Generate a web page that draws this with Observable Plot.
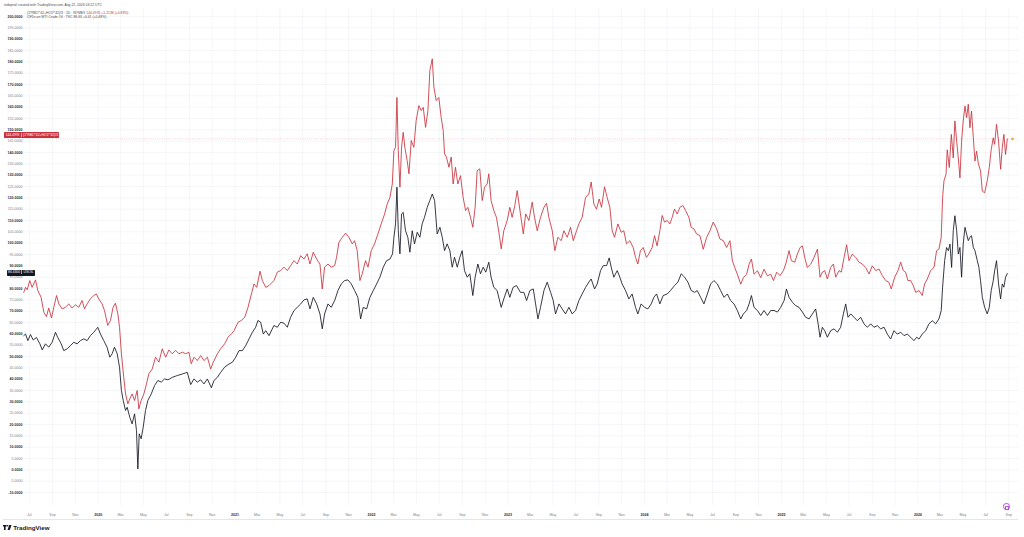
<!DOCTYPE html>
<html><head><meta charset="utf-8">
<script src="https://cdn.jsdelivr.net/npm/d3@7"></script>
<script src="https://cdn.jsdelivr.net/npm/@observablehq/plot@0.6"></script>
<style>
html,body{margin:0;padding:0;background:#fff;overflow:hidden;}
#wrap{position:relative;width:1024px;height:537px;font-family:"Liberation Sans",Arial,sans-serif;}
#wrap svg.plot{position:absolute;left:0;top:0;}
.ov{position:absolute;white-space:nowrap;}
.hdr{font-size:3.4px;color:#4a4a4a;line-height:4px;}
.box{color:#fff;font-size:3.3px;line-height:6px;height:6px;padding:0 1.4px;border-radius:0.8px;}
.box span{border-left:0.4px solid rgba(255,255,255,0.6);margin-left:1.3px;padding-left:1.3px;}
.logo{display:flex;align-items:center;gap:1.2px;}
</style></head>
<body><div id="wrap"></div>
<script>
// ---- data (decimal years, values) ----
const redYears = [2019.455,2019.468,2019.480,2019.499,2019.516,2019.541,2019.558,2019.582,2019.602,2019.621,2019.638,2019.658,2019.675,2019.695,2019.712,2019.736,2019.760,2019.785,2019.809,2019.834,2019.858,2019.882,2019.900,2019.919,2019.943,2019.968,2019.987,2020.004,2020.029,2020.046,2020.070,2020.090,2020.109,2020.126,2020.144,2020.156,2020.170,2020.187,2020.200,2020.217,2020.231,2020.248,2020.266,2020.285,2020.297,2020.314,2020.334,2020.353,2020.370,2020.395,2020.419,2020.444,2020.468,2020.493,2020.517,2020.541,2020.566,2020.590,2020.615,2020.639,2020.663,2020.680,2020.700,2020.724,2020.749,2020.773,2020.798,2020.822,2020.841,2020.871,2020.895,2020.924,2020.949,2020.973,2020.993,2021.022,2021.046,2021.071,2021.095,2021.120,2021.139,2021.159,2021.183,2021.200,2021.225,2021.249,
2021.285,2021.310,2021.334,2021.359,2021.383,2021.407,2021.432,2021.456,2021.481,2021.505,2021.529,2021.549,2021.573,2021.598,2021.622,2021.639,2021.656,2021.681,2021.705,2021.730,2021.744,2021.761,2021.786,2021.810,2021.834,2021.859,2021.876,2021.895,2021.915,2021.932,2021.956,2021.974,2021.998,2022.022,2022.047,2022.071,2022.096,2022.115,2022.135,2022.152,2022.164,2022.176,2022.186,2022.196,2022.208,2022.220,2022.232,2022.244,2022.261,2022.274,2022.291,2022.310,2022.327,2022.347,2022.364,2022.379,2022.396,2022.413,2022.427,2022.445,2022.457,2022.474,2022.493,2022.510,2022.525,2022.535,2022.549,2022.567,2022.584,2022.598,2022.615,2022.632,2022.652,2022.671,2022.689,2022.706,2022.725,2022.742,2022.759,2022.774,2022.793,2022.811,2022.828,2022.847,2022.859,2022.876,2022.896,2022.915,2022.933,2022.950,2022.969,2022.994,2023.013,2023.030,2023.050,2023.067,2023.091,
2023.112,2023.129,2023.153,2023.177,2023.194,2023.214,2023.238,2023.263,2023.282,2023.299,2023.324,2023.343,2023.365,2023.390,2023.409,2023.434,2023.458,2023.478,2023.502,2023.519,2023.543,2023.568,2023.592,2023.609,2023.629,2023.648,2023.668,2023.685,2023.707,2023.726,2023.746,2023.763,2023.780,2023.805,2023.829,2023.848,2023.868,2023.892,2023.917,2023.934,2023.951,2023.970,2023.990,2024.014,2024.031,2024.056,2024.073,2024.092,2024.112,2024.129,2024.146,2024.166,2024.185,2024.202,2024.219,2024.239,2024.258,2024.280,2024.300,2024.324,2024.341,2024.361,2024.380,2024.405,2024.429,2024.454,2024.478,2024.502,2024.527,2024.551,2024.576,2024.600,2024.624,2024.642,2024.659,2024.678,2024.703,2024.722,2024.746,2024.764,2024.781,2024.800,2024.825,2024.849,2024.873,2024.898,2024.922,
2024.942,2024.966,2024.990,2025.015,2025.032,2025.056,2025.073,2025.098,2025.117,2025.137,2025.154,2025.171,2025.190,2025.215,2025.239,2025.264,2025.283,2025.300,2025.317,2025.337,2025.361,2025.381,2025.398,2025.422,2025.439,2025.459,2025.478,2025.495,2025.520,2025.544,2025.569,2025.593,2025.617,2025.642,2025.666,2025.691,2025.715,2025.739,2025.764,2025.788,2025.805,2025.830,2025.854,2025.874,2025.893,2025.910,2025.927,2025.947,2025.966,2025.984,2026.008,2026.032,2026.049,2026.069,2026.093,2026.118,2026.137,2026.154,2026.171,2026.181,2026.191,2026.206,2026.215,2026.230,2026.245,2026.259,2026.271,2026.284,2026.296,2026.308,2026.320,2026.332,2026.345,2026.357,2026.369,2026.381,2026.393,2026.406,2026.418,2026.430,2026.442,2026.459,2026.472,2026.489,2026.508,2026.523,2026.537,2026.552,2026.562,2026.576,2026.591,2026.606,2026.618,2026.630,2026.642,2026.655];
const redValues = [78.3,80.5,79.4,83.5,80.5,83.8,79.1,76.1,69.5,67.6,71.4,67.0,71.7,76.9,73.2,71.0,71.7,73.2,71.4,72.8,71.7,74.7,71.0,73.2,75.4,76.9,77.6,75.4,73.2,70.3,63.7,65.9,71.7,73.5,68.8,62.9,51.2,40.8,33.5,29.1,31.3,33.5,30.6,35.0,26.9,30.6,33.5,37.9,42.3,44.5,49.7,47.5,53.4,49.7,52.9,51.2,52.7,51.2,51.9,51.2,51.9,46.8,49.7,48.2,50.4,48.2,49.7,44.5,47.5,51.2,53.4,55.6,58.5,60.0,61.4,65.1,65.9,67.3,71.7,77.6,82.0,80.5,87.6,83.5,80.5,81.3,
83.5,87.2,87.9,89.4,87.9,90.1,92.3,90.8,94.5,93.0,95.3,90.8,96.0,93.0,90.8,79.8,89.4,90.8,89.4,90.1,93.8,100.4,102.6,104.4,102.6,99.7,101.1,96.7,83.5,86.5,92.3,89.4,96.7,99.7,104.1,108.5,112.9,117.3,120.2,126.1,140.8,142.3,164.3,140.8,124.7,142.3,148.9,142.3,136.4,130.6,145.3,142.3,154.1,160.7,158.5,159.9,151.1,158.5,176.1,181.3,168.8,162.9,164.3,155.5,149.7,139.4,138.0,133.5,138.0,126.1,133.5,126.1,129.8,120.2,114.4,115.8,111.4,107.0,115.8,132.0,132.8,118.8,124.7,126.1,130.6,118.8,114.4,111.4,104.8,97.5,105.5,110.0,115.8,111.4,116.6,123.2,112.9,
104.1,112.9,110.0,118.1,111.4,105.5,111.4,115.8,117.6,111.4,105.5,96.7,102.6,101.1,105.5,102.6,107.0,101.1,105.5,108.5,111.4,120.2,121.7,127.0,117.3,115.0,119.5,115.8,124.9,120.2,115.8,105.5,102.6,108.5,104.8,105.5,99.7,101.1,98.1,93.7,90.8,96.7,98.1,93.7,95.2,98.1,103.3,98.8,105.5,112.2,109.3,110.0,108.5,111.4,115.0,112.9,115.8,116.6,114.4,111.4,107.0,106.3,104.1,103.3,97.3,102.6,105.5,109.3,106.3,101.8,101.1,98.1,101.1,92.2,89.3,86.3,81.9,84.8,86.3,90.8,93.0,86.3,87.8,84.8,88.5,85.6,86.3,
83.5,87.2,85.7,87.9,90.8,96.7,92.3,91.6,95.2,98.1,98.8,93.7,89.3,90.8,93.7,97.4,85.0,87.2,87.9,84.2,89.3,90.8,85.0,87.9,87.2,93.7,99.3,92.3,95.2,93.7,91.6,90.8,89.3,86.4,90.0,87.9,88.6,85.7,83.5,82.7,79.8,85.0,87.9,91.6,87.9,87.2,83.5,83.5,81.3,78.3,79.1,76.9,82.0,84.2,87.9,89.3,96.7,97.4,102.6,120.2,127.5,130.4,141.2,133.4,148.0,137.6,153.9,145.0,137.6,128.8,145.0,153.9,160.5,155.4,161.3,150.9,158.3,146.5,136.2,140.6,135.4,131.8,123.0,122.2,127.5,133.4,141.2,146.5,143.6,152.4,145.0,132.6,142.1,148.0,139.1,146.0];

const blackYears = [2019.455,2019.468,2019.485,2019.504,2019.524,2019.548,2019.573,2019.590,2019.614,2019.638,2019.663,2019.687,2019.704,2019.729,2019.748,2019.773,2019.797,2019.821,2019.846,2019.870,2019.895,2019.919,2019.943,2019.968,2019.997,2020.017,2020.041,2020.065,2020.085,2020.102,2020.119,2020.139,2020.156,2020.170,2020.183,2020.200,2020.212,2020.231,2020.248,2020.266,2020.280,2020.290,2020.300,2020.314,2020.329,2020.346,2020.363,2020.388,2020.412,2020.436,2020.461,2020.485,2020.510,2020.541,2020.578,2020.615,2020.651,2020.676,2020.700,2020.724,2020.749,2020.773,2020.798,2020.827,2020.846,2020.871,2020.895,2020.924,2020.956,2020.981,2021.005,2021.029,2021.054,2021.078,2021.103,2021.127,2021.151,2021.168,2021.188,2021.207,2021.225,2021.249,
2021.285,2021.310,2021.334,2021.359,2021.383,2021.407,2021.432,2021.456,2021.481,2021.505,2021.529,2021.549,2021.573,2021.598,2021.622,2021.639,2021.656,2021.681,2021.705,2021.730,2021.754,2021.778,2021.803,2021.827,2021.852,2021.876,2021.900,2021.920,2021.939,2021.964,2021.988,2022.013,2022.037,2022.061,2022.086,2022.110,2022.135,2022.154,2022.164,2022.176,2022.186,2022.196,2022.208,2022.220,2022.232,2022.249,2022.266,2022.281,2022.298,2022.315,2022.335,2022.354,2022.371,2022.388,2022.408,2022.427,2022.445,2022.462,2022.481,2022.501,2022.518,2022.535,2022.554,2022.574,2022.591,2022.608,2022.628,2022.647,2022.664,2022.681,2022.701,2022.720,2022.742,2022.759,2022.779,2022.798,2022.818,2022.837,2022.859,2022.876,2022.896,2022.920,2022.950,2022.969,2022.994,2023.013,2023.037,2023.062,2023.091,
2023.116,2023.136,2023.160,2023.185,2023.202,2023.219,2023.238,2023.263,2023.287,2023.312,2023.331,2023.348,2023.373,2023.397,2023.421,2023.446,2023.470,2023.495,2023.519,2023.543,2023.568,2023.592,2023.609,2023.634,2023.653,2023.678,2023.697,2023.722,2023.741,2023.756,2023.775,2023.800,2023.819,2023.836,2023.861,2023.885,2023.909,2023.934,2023.951,2023.975,2024.000,2024.024,2024.049,2024.068,2024.088,2024.112,2024.136,2024.166,2024.190,2024.219,2024.244,2024.268,2024.293,2024.317,2024.341,2024.366,2024.385,2024.410,2024.434,2024.459,2024.483,2024.507,2024.532,2024.556,2024.581,2024.605,2024.629,2024.654,2024.678,2024.703,2024.722,2024.746,2024.764,2024.781,2024.800,2024.825,2024.849,2024.873,2024.898,2024.922,
2024.946,2024.971,2024.995,2025.020,2025.037,2025.056,2025.081,2025.105,2025.129,2025.154,2025.178,2025.203,2025.227,2025.251,2025.269,2025.283,2025.300,2025.317,2025.337,2025.361,2025.386,2025.410,2025.434,2025.454,2025.471,2025.488,2025.508,2025.532,2025.556,2025.581,2025.605,2025.630,2025.654,2025.678,2025.703,2025.727,2025.752,2025.776,2025.800,2025.825,2025.849,2025.874,2025.898,2025.922,2025.947,2025.971,2025.991,2026.008,2026.032,2026.057,2026.081,2026.106,2026.130,2026.154,2026.171,2026.181,2026.196,2026.210,2026.223,2026.235,2026.247,2026.259,2026.271,2026.284,2026.296,2026.308,2026.320,2026.332,2026.345,2026.357,2026.369,2026.381,2026.393,2026.406,2026.418,2026.435,2026.447,2026.459,2026.472,2026.489,2026.508,2026.523,2026.537,2026.552,2026.562,2026.576,2026.591,2026.606,2026.618,2026.630,2026.642,2026.655];
const blackValues = [59.2,59.9,57.0,59.7,57.3,58.4,55.6,52.9,55.6,54.1,56.3,60.7,58.4,55.6,52.6,53.4,54.8,56.3,55.6,57.0,57.8,57.0,59.2,60.7,62.9,59.9,57.0,54.1,49.7,51.2,54.1,51.2,45.3,35.0,30.6,26.2,27.6,23.2,20.3,24.7,17.3,0.4,15.9,13.7,18.8,26.2,30.6,33.5,37.2,39.4,38.7,40.1,39.7,40.8,41.6,42.3,43.0,37.6,40.1,38.7,39.7,37.9,40.1,36.2,39.4,40.8,43.0,45.3,46.7,47.5,49.7,52.6,52.6,54.8,57.8,60.7,62.9,65.9,65.1,59.9,61.4,59.2,
63.7,62.9,65.1,64.7,62.9,67.3,70.3,71.7,73.2,75.0,75.4,71.0,76.1,73.2,68.8,62.2,68.8,73.2,71.7,74.7,79.1,82.0,83.5,83.8,82.0,79.1,76.1,66.6,71.7,71.0,76.1,79.1,82.0,85.0,89.4,92.3,93.0,95.3,102.6,108.5,124.7,105.5,95.3,112.9,113.6,105.5,102.6,96.0,105.5,99.7,104.8,102.6,108.5,111.4,115.8,118.8,121.7,118.8,104.1,107.0,102.6,96.7,99.7,96.7,89.4,93.8,89.4,93.8,96.7,87.9,85.0,86.5,76.9,85.0,90.8,86.5,89.4,87.2,91.6,85.0,80.5,79.1,71.7,75.4,79.8,76.1,80.5,81.3,78.3,
78.3,74.7,79.1,79.8,73.2,66.6,71.7,79.1,82.8,78.3,74.7,68.8,73.2,71.0,68.8,71.7,68.8,70.3,74.7,77.6,80.5,82.8,84.2,79.8,82.0,87.9,90.1,90.1,93.5,89.4,85.0,87.9,85.0,82.0,79.1,75.4,77.6,71.7,68.8,73.2,71.7,71.0,73.2,76.1,77.6,73.2,76.9,77.6,79.1,81.3,82.8,86.5,85.0,82.8,79.1,78.3,79.1,76.1,73.2,77.6,82.0,83.5,82.0,79.1,76.1,77.6,74.7,73.2,70.3,66.6,68.8,70.3,73.2,76.9,71.7,70.3,68.1,70.3,68.1,70.3,
70.3,69.6,71.7,74.7,79.8,76.1,73.9,72.4,71.7,69.6,67.3,66.6,68.8,71.0,64.4,58.5,62.9,61.4,58.5,61.4,62.2,60.7,62.9,68.8,73.2,67.3,68.8,67.3,65.8,67.3,64.4,62.9,64.4,62.9,63.6,62.2,62.9,59.9,57.7,61.4,59.9,60.7,59.2,59.9,58.5,57.0,58.5,57.7,59.9,61.4,64.4,65.8,64.4,66.6,70.3,80.6,92.3,98.1,96.7,99.6,89.3,105.5,112.1,105.5,95.2,98.1,85.0,99.6,107.0,104.0,101.1,102.6,103.3,98.1,96.7,92.3,89.3,83.4,76.1,71.7,68.8,71.7,79.1,83.4,87.8,92.3,82.0,75.4,82.0,80.6,85.0,86.6];

const xTickMonths = ["2019-07","2019-09","2019-11","2020-01","2020-03","2020-05","2020-07","2020-09","2020-11","2021-01","2021-03","2021-05","2021-07","2021-09","2021-11","2022-01","2022-03","2022-05","2022-07","2022-09","2022-11","2023-01","2023-03","2023-05","2023-07","2023-09","2023-11","2024-01","2024-03","2024-05","2024-07","2024-09","2024-11","2025-01","2025-03","2025-05","2025-07","2025-09","2025-11","2026-01","2026-03","2026-05","2026-07","2026-09"];
const monthNames = ["Jan","Feb","Mar","Apr","May","Jun","Jul","Aug","Sep","Oct","Nov","Dec"];
const yMajorTicks = [-10,0,10,20,30,40,50,60,70,80,90,100,110,120,130,140,150,160,170,180,190,200];
const yMinorTicks = [-5,5,15,25,35,45,55,65,75,85,95,105,115,125,135,145,155,165,175,185,195];

const headerLine1 = "indoproil created with TradingView.com, Aug 22, 2026 03:22 UTC";
const redName = "(2*RB1!*42+HO1!*42)/3";
const redLegend = "(2*RB1!*42+HO1!*42)/3 · 1D · NYMEX";
const redQuote = "144.4976 +1.2138 (+0.83%)";
const redLastLabel = "144.4976";
const blackLegend = "CFDs on WTI Crude Oil · TVC 86.63 +0.41 (+0.48%)";
const blackLastLabel = "86.6300";
const blackName = "USOIL";

// ---- build ----
function toDate(t){const y=Math.floor(t);const a=Date.UTC(y,0,1),b=Date.UTC(y+1,0,1);return new Date(a+(t-y)*(b-a));}
const red = redYears.map((t,i)=>({date:toDate(t), value:redValues[i]}));
const black = blackYears.map((t,i)=>({date:toDate(t), value:blackValues[i]}));
const xTicks = xTickMonths.map(s=>new Date(s+"-01T00:00:00Z"));
const yearTicks = xTicks.filter(d=>d.getUTCMonth()===0);
const monthTicks = xTicks.filter(d=>d.getUTCMonth()!==0);
const allY = yMajorTicks.concat(yMinorTicks);
const lastRed = redValues[redValues.length-1];
const lastBlack = blackValues[blackValues.length-1];
const RED = "#c9313d", BLACK = "#131722";

const chart = Plot.plot({
  width: 1024, height: 537,
  marginLeft: 23, marginRight: 6, marginTop: 8, marginBottom: 32,
  x: {type: "utc", domain: [toDate(2019.453), toDate(2026.737)]},
  y: {domain: [-15.73, 203.53]},
  style: {fontFamily: "'Liberation Sans', Arial, sans-serif", fontSize: "3.6px", background: "transparent", overflow: "visible"},
  marks: [
    Plot.gridY(allY, {stroke: "#eef0f3", strokeOpacity: 1, strokeWidth: 0.6}),
    Plot.gridX(xTicks, {stroke: "#eef0f3", strokeOpacity: 1, strokeWidth: 0.6}),
    Plot.ruleY([lastRed], {stroke: RED, strokeOpacity: 0.45, strokeWidth: 0.5, strokeDasharray: "1,1.2"}),
    Plot.line(black, {x: "date", y: "value", stroke: BLACK, strokeWidth: 0.85, strokeLinejoin: "round"}),
    Plot.line(red, {x: "date", y: "value", stroke: RED, strokeWidth: 0.85, strokeLinejoin: "round"}),
    Plot.dot([lastRed], {x: () => toDate(2026.693), y: d => d, symbol: "square", r: 1.3, fill: "#f6a53c", stroke: "none"}),
    Plot.axisY(yMajorTicks, {tickSize: 0, tickPadding: 1, tickFormat: d => d.toFixed(4), fontWeight: "bold", fill: "#2a2e39", label: null}),
    Plot.axisY(yMinorTicks, {tickSize: 0, tickPadding: 1, tickFormat: d => d.toFixed(4), fill: "#7b7e88", label: null}),
    Plot.axisX(yearTicks, {tickSize: 0, tickPadding: 7.7, tickFormat: d => String(d.getUTCFullYear()), fontWeight: "bold", fill: "#2a2e39", label: null}),
    Plot.axisX(monthTicks, {tickSize: 0, tickPadding: 7.7, tickFormat: d => monthNames[d.getUTCMonth()], fill: "#7b7e88", label: null})
  ]
});
const wrap = document.getElementById("wrap");
wrap.appendChild(chart);
const ys = chart.scale("y"), xs = chart.scale("x");

function addDiv(cls, css, html){const d=document.createElement("div");d.className="ov "+cls;d.style.cssText=css;d.innerHTML=html;wrap.appendChild(d);return d;}
addDiv("hdr", "left:4px;top:2.8px;", headerLine1);
addDiv("hdr", "left:27px;top:10.8px;", redLegend + ' <span style="color:'+RED+'">' + redQuote + '</span>');
addDiv("hdr", "left:27px;top:15.3px;", blackLegend);

const ry = ys.apply(lastRed) - 3.6;
addDiv("box", "left:4.3px;top:"+(ry-3)+"px;background:"+RED+";", redLastLabel + "<span>" + redName + "</span>");
const by = ys.apply(lastBlack);
addDiv("box", "left:6.7px;top:"+(by-2.9)+"px;height:5.6px;line-height:5.6px;background:"+BLACK+";", blackLastLabel + "<span>" + blackName + "</span>");

// bottom border line
addDiv("", "left:3px;top:518.5px;width:1015px;height:0.5px;background:#e3e5e8;", "");
// purple marker near bottom right
const px = xs.apply(toDate(2026.647));
addDiv("", "left:"+(px-2.8)+"px;top:503.4px;width:4.6px;height:4.6px;border:0.5px solid #b84fd8;border-radius:50%;", '<div style="position:absolute;left:1.5px;top:1.2px;width:1.6px;height:2.2px;border:0.4px solid #b84fd8;border-radius:0.5px;"></div>');
// TradingView logo
addDiv("logo", "left:3px;top:524.5px;height:6px;", '<svg width="9" height="5.4" viewBox="0 0 9 5.4" style="display:block;flex:none"><path d="M0 0H3.6V1.5H2.6V5.4H1V1.5H0Z" fill="#131722"/><circle cx="4.6" cy="0.8" r="0.8" fill="#131722"/><path d="M6.2 0H8.6L6.6 5.4H4.4Z" fill="#131722"/></svg><span style="font-size:6.2px;font-weight:bold;color:#131722;line-height:6px;">TradingView</span>');
</script>
</body></html>
